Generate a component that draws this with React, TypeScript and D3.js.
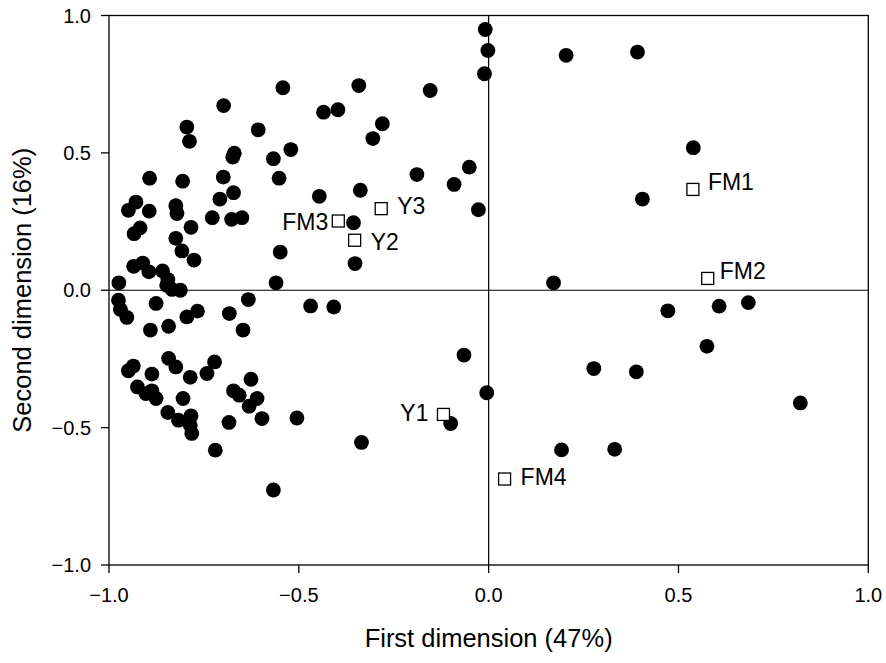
import React from "react";
import * as d3 from "d3";

// Filled circles (first dimension, second dimension)
const dotX: number[] = [
  -0.542, -0.698, -0.795, -0.788, -0.607, -0.567, -0.670, -0.674, -0.552, -0.893,
  -0.806, -0.699, -0.708, -0.672, -0.929, -0.949, -0.894, -0.824, -0.821, -0.728,
  -0.677, -0.650, -0.918, -0.934, -0.784, -0.824, -0.808, -0.776, -0.935, -0.911,
  -0.895, -0.974, -0.859, -0.845, -0.848, -0.834, -0.812, -0.549, -0.560,
  -0.009, -0.002, -0.011, -0.342, -0.154, -0.435, -0.397, -0.280, -0.305, -0.521,
  -0.189, -0.051, -0.091, -0.446, -0.338, -0.027, -0.356, -0.352,
  -0.975, -0.970, -0.953, -0.876, -0.891, -0.843, -0.795, -0.767, -0.683, -0.633,
  -0.647, -0.949, -0.936, -0.887, -0.843, -0.824, -0.786, -0.742, -0.722, -0.925,
  -0.903, -0.887, -0.876, -0.805, -0.845, -0.817, -0.784, -0.786, -0.782, -0.684,
  -0.672, -0.657, -0.626, -0.610, -0.631, -0.597, -0.720, -0.567,
  -0.469, -0.408, -0.065, -0.005, -0.505, -0.335, -0.100,
  0.204, 0.392, 0.539, 0.405, 0.171, 0.472, 0.607, 0.684, 0.575, 0.277,
  0.389, 0.821, 0.192, 0.332,
];
const dotY: number[] = [
  0.737, 0.672, 0.594, 0.542, 0.584, 0.479, 0.499, 0.485, 0.408, 0.408,
  0.397, 0.412, 0.332, 0.355, 0.321, 0.291, 0.288, 0.308, 0.279, 0.264,
  0.258, 0.264, 0.227, 0.206, 0.229, 0.189, 0.143, 0.110, 0.087, 0.099,
  0.067, 0.027, 0.070, 0.039, 0.018, 0.003, 0.000, 0.139, 0.027,
  0.949, 0.873, 0.788, 0.745, 0.727, 0.648, 0.657, 0.606, 0.552, 0.512,
  0.421, 0.448, 0.385, 0.342, 0.364, 0.293, 0.246, 0.097,
  -0.036, -0.070, -0.099, -0.048, -0.145, -0.131, -0.097, -0.076, -0.085, -0.034,
  -0.145, -0.293, -0.276, -0.305, -0.248, -0.279, -0.317, -0.303, -0.261, -0.352,
  -0.376, -0.366, -0.394, -0.394, -0.445, -0.473, -0.457, -0.491, -0.521, -0.481,
  -0.366, -0.382, -0.324, -0.394, -0.422, -0.467, -0.582, -0.727,
  -0.057, -0.061, -0.236, -0.373, -0.465, -0.554, -0.485,
  0.855, 0.867, 0.519, 0.332, 0.027, -0.075, -0.058, -0.045, -0.204, -0.285,
  -0.297, -0.410, -0.581, -0.579,
];

// Open squares (labelled)
const sqLabels: string[] = ["FM1", "FM2", "FM3", "FM4", "Y1", "Y2", "Y3"];
const sqX: number[] = [0.538, 0.577, -0.396, 0.042, -0.119, -0.353, -0.283];
const sqY: number[] = [0.367, 0.043, 0.252, -0.687, -0.452, 0.182, 0.297];

const xTicks: number[] = [-1, -0.5, 0, 0.5, 1];
const yTicks: number[] = [-1, -0.5, 0, 0.5, 1];
const xTitle = "First dimension (47%)";
const yTitle = "Second dimension (16%)";

// label placement (layout only)
const labelPlace: Record<string, { dx: number; dy: number; anchor: string }> = {
  FM1: { dx: 15, dy: 1, anchor: "start" },
  FM2: { dx: 12, dy: 1, anchor: "start" },
  FM3: { dx: -10, dy: 9, anchor: "end" },
  FM4: { dx: 16, dy: 6, anchor: "start" },
  Y1: { dx: -15, dy: 7, anchor: "end" },
  Y2: { dx: 16, dy: 10, anchor: "start" },
  Y3: { dx: 16, dy: 5, anchor: "start" },
};

const W = 886;
const H = 663;
const FONT = "'Liberation Sans', Arial, Helvetica, sans-serif";

export default function App() {
  const x = d3.scaleLinear().domain([-1, 1]).range([109, 868.3]);
  const y = d3.scaleLinear().domain([-1, 1]).range([565, 15.5]);
  const fmt = d3.format(".1f");
  const [x0, x1] = x.range();
  const [y0, y1] = y.range();
  const sq = 12;

  return (
    <svg
      width={W}
      height={H}
      style={{ position: "absolute", left: 0, top: 0, background: "#fff" }}
      fontFamily={FONT}
    >
      <rect x={0} y={0} width={W} height={H} fill="#fff" />
      {/* zero lines */}
      <line x1={x(0)} x2={x(0)} y1={y1} y2={y0} stroke="#000" strokeWidth={1.2} />
      <line x1={x0} x2={x1} y1={y(0)} y2={y(0)} stroke="#000" strokeWidth={1.2} />
      {/* frame */}
      <rect x={x0} y={y1} width={x1 - x0} height={y0 - y1} fill="none" stroke="#000" strokeWidth={1.3} />
      {/* x ticks */}
      {xTicks.map((t) => (
        <g key={"xt" + t}>
          <line x1={x(t)} x2={x(t)} y1={y0} y2={y0 + 8} stroke="#000" strokeWidth={1.3} />
          <text x={x(t)} y={602} textAnchor="middle" fontSize={20} fill="#000">
            {fmt(t)}
          </text>
        </g>
      ))}
      {/* y ticks */}
      {yTicks.map((t) => (
        <g key={"yt" + t}>
          <line x1={x0 - 8} x2={x0} y1={y(t)} y2={y(t)} stroke="#000" strokeWidth={1.3} />
          <text x={91} y={y(t) + 7} textAnchor="end" fontSize={20} fill="#000">
            {fmt(t)}
          </text>
        </g>
      ))}
      {/* titles */}
      <text x={(x0 + x1) / 2} y={647} textAnchor="middle" fontSize={25.5} fill="#000">
        {xTitle}
      </text>
      <text
        transform={`translate(31,${(y0 + y1) / 2}) rotate(-90)`}
        textAnchor="middle"
        fontSize={25.5}
        fill="#000"
      >
        {yTitle}
      </text>
      {/* dots */}
      {dotX.map((v, i) => (
        <circle key={"d" + i} cx={x(v)} cy={y(dotY[i])} r={7.4} fill="#000" />
      ))}
      {/* squares and labels */}
      {sqLabels.map((lab, i) => {
        const cx = x(sqX[i]);
        const cy = y(sqY[i]);
        const p = labelPlace[lab];
        return (
          <g key={"s" + lab}>
            <rect x={cx - sq / 2} y={cy - sq / 2} width={sq} height={sq} fill="#fff" stroke="#000" strokeWidth={1.3} />
            <text x={cx + p.dx} y={cy + p.dy} textAnchor={p.anchor} fontSize={23} fill="#000">
              {lab}
            </text>
          </g>
        );
      })}
    </svg>
  );
}
